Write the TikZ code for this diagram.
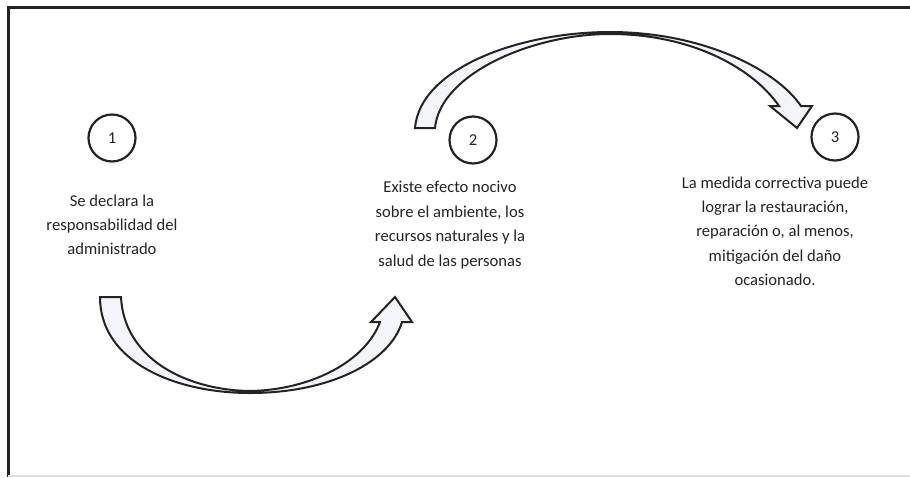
\documentclass[tikz,border=0pt]{standalone}
\usepackage{fontspec}
\setmainfont{Carlito}
\usetikzlibrary{positioning}

\begin{document}
\begin{tikzpicture}[x=1pt, y=-1pt, font=\fontsize{16.6}{24.4}\selectfont]
    \definecolor{ink}{RGB}{35, 35, 35}
    \definecolor{tint}{RGB}{243, 245, 250}
    \tikzset{
        stage/.style={circle, draw=ink, line width=2.2pt, minimum size=47pt, inner sep=0pt, text=ink},
        caption/.style={align=center, text=ink, anchor=north},
        bigarrow/.style={draw=ink, line width=2pt, fill=tint, line join=miter}
    }
    \useasboundingbox (0,0) rectangle (910,477);

    % Frame
    \draw[ink, line width=3pt] (8,477) -- (8,7) -- (910,7);
    \draw[black!12, line width=1.5pt] (8,476) -- (910,476);

    % Stages
    \node[stage] (c1) at (112,138) {1};
    \node[stage] (c2) at (473,140) {2};
    \node[stage] (c3) at (835,137) {3};

    % Texts
    \node[caption] (t1) at (112,191) {Se declara la\\responsabilidad del\\administrado};
    \node[caption] (t2) at (450,178) {Existe efecto nocivo\\sobre el ambiente, los\\recursos naturales y la\\salud de las personas};
    \node[caption] (t3) at (775,173) {La medida correctiva puede\\lograr la restauraci\'on,\\reparaci\'on o, al menos,\\mitigaci\'on del da\~no\\ocasionado.};

    % Lower arrow (1 to 2)
    \draw[bigarrow] (100,297) .. controls (100,362) and (175,393) .. (250,393)
        .. controls (330,393) and (390,362) .. (402,322) -- (412,322) -- (395,297)
        -- (371,322) -- (380,322) .. controls (365,362) and (310,390) .. (250,391)
        .. controls (185,390) and (124,358) .. (121,297) -- cycle;

    % Upper arrow (2 to 3)
    \draw[bigarrow] (415,128) .. controls (420,68) and (520,32) .. (610,32)
        .. controls (700,32) and (775,68) .. (801,106) -- (812,106) -- (797,128)
        -- (770,106) -- (779,106) .. controls (752,67) and (690,34) .. (610,34)
        .. controls (532,34) and (440,74) .. (435,128) -- cycle;
\end{tikzpicture}
\end{document}
